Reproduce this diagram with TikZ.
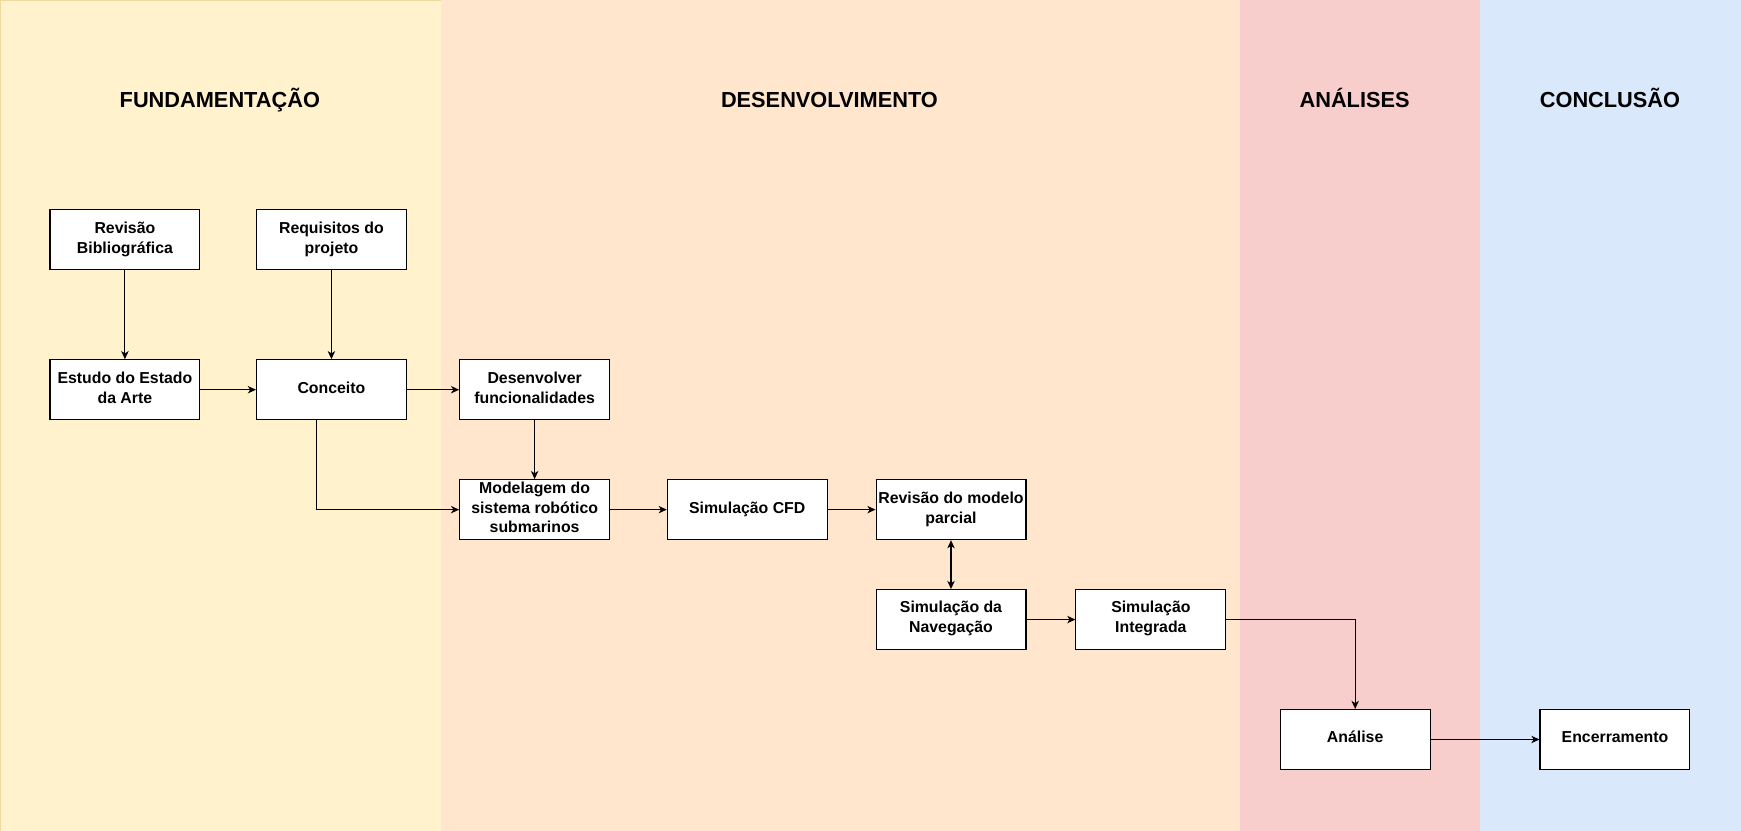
\documentclass[tikz,border=0pt]{standalone}
\usepackage{fontspec}
\setmainfont{Liberation Sans}
\usetikzlibrary{arrows.meta,calc}
\definecolor{laneA}{HTML}{FFF2CC}
\definecolor{laneAb}{HTML}{EED9A0}
\definecolor{laneB}{HTML}{FFE6CC}
\definecolor{laneC}{HTML}{F8CECC}
\definecolor{laneD}{HTML}{DAE8FC}
\newcommand\lstr{\rule[-3.2pt]{0pt}{10.3pt}}
\newcommand\mstr{\rule[-2.1pt]{0pt}{11.4pt}}
\tikzset{
  stepbox/.style={draw=black, fill=white, line width=0.75pt, rectangle,
    minimum width=101.25pt, minimum height=40.5pt, inner sep=0pt, align=center,
    font=\fontsize{10.7pt}{13.5pt}\selectfont\bfseries,
    execute at begin node=\lstr, execute at end node=\lstr},
  threeline/.style={font=\fontsize{10.7pt}{13pt}\selectfont\bfseries,
    execute at begin node=\mstr, execute at end node=\mstr},
  lanetitle/.style={font=\fontsize{14.7pt}{17pt}\selectfont\bfseries, inner sep=0pt, anchor=base},
  conn/.style={line width=0.75pt, -{Stealth[length=5.5pt,width=5pt,inset=1.6pt]}},
  biconn/.style={line width=0.75pt, {Stealth[length=5.5pt,width=5pt,inset=1.6pt]}-{Stealth[length=5.5pt,width=5pt,inset=1.6pt]}}
}
\begin{document}
\begin{tikzpicture}[x=0.75pt,y=-0.75pt]
\useasboundingbox (0,0) rectangle (1568,748);
% lanes
\fill[laneA] (0,0) rectangle (397,748);
\draw[laneAb, line width=0.75pt] (0.5,748) -- (0.5,0.5) -- (397,0.5);
\fill[laneB] (397,0) rectangle (1117,748);
\fill[laneC] (1117,0) rectangle (1333,748);
\fill[laneD] (1333,0) rectangle (1568,748);
% titles
\node[lanetitle] (t1) at (198,97) {FUNDAMENTAÇÃO};
\node[lanetitle] (t2) at (747,97) {DESENVOLVIMENTO};
\node[lanetitle] (t3) at (1220,96.5) {ANÁLISES};
\node[lanetitle] (t4) at (1450,97) {CONCLUSÃO};
% boxes
\node[stepbox] (rb) at (112.5,216) {Revisão\\Bibliográfica};
\node[stepbox] (rp) at (298.5,216) {Requisitos do\\projeto};
\node[stepbox] (ea) at (112.5,351) {Estudo do Estado\\da Arte};
\node[stepbox] (co) at (298.5,351) {Conceito};
\node[stepbox] (df) at (481.5,351) {Desenvolver\\funcionalidades};
\node[stepbox, threeline] (ms) at (481.5,459) {Modelagem do\\sistema robótico\\submarinos};
\node[stepbox, minimum width=108pt] (cfd) at (673,459) {Simulação CFD};
\node[stepbox] (rm) at (856.5,459) {Revisão do modelo\\parcial};
\node[stepbox] (sn) at (856.5,558) {Simulação da\\Navegação};
\node[stepbox] (si) at (1036.5,558) {Simulação\\Integrada};
\node[stepbox] (an) at (1220.5,666) {Análise};
\node[stepbox] (en) at (1454.5,666) {Encerramento};
% connectors
\draw[conn] (rb) -- (ea);
\draw[conn] (rp) -- (co);
\draw[conn] (ea) -- (co);
\draw[conn] (co) -- (df);
\coordinate (cob) at ($(co.south)+(-13.5,0)$);
\draw[conn] (cob) |- (ms.west);
\draw[conn] (df) -- (ms);
\draw[conn] (ms) -- (cfd);
\draw[conn] (cfd) -- (rm);
\draw[biconn] (rm) -- (sn);
\draw[conn] (sn) -- (si);
\draw[conn] (si.east) -| (an.north);
\draw[conn] (an) -- (en);
\end{tikzpicture}
\end{document}
